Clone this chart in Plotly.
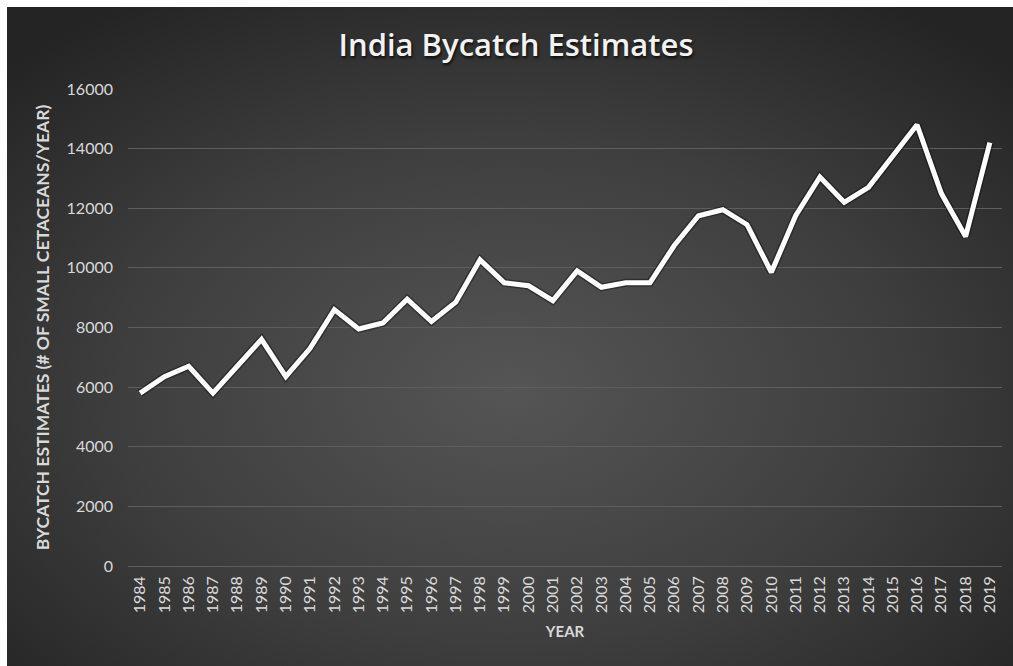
import base64
import plotly.graph_objects as go

years = [str(y) for y in range(1984, 2020)]
bycatch = [5800, 6350, 6700, 5800, 6700, 7600, 6350, 7300, 8600, 7950,
           8150, 8950, 8200, 8850, 10270, 9500, 9400, 8900, 9900, 9350,
           9500, 9500, 10750, 11750, 11950, 11450, 9850, 11750, 13050, 12200,
           12700, 13750, 14800, 12500, 11050, 14200]

title_text = "India Bycatch Estimates"
y_title = "BYCATCH ESTIMATES (# OF SMALL CETACEANS/YEAR)"
x_title = "YEAR"

W, H = 1013, 666
L, R, T, B = 128, 11, 89, 100
pw, ph = W - L - R, H - T - B

svg = ('<svg xmlns="http://www.w3.org/2000/svg" width="1006" height="659" preserveAspectRatio="none">'
       '<defs><radialGradient id="g" cx="50%" cy="58%" r="70%">'
       '<stop offset="0%" stop-color="#555555"/>'
       '<stop offset="55%" stop-color="#3e3e3e"/>'
       '<stop offset="100%" stop-color="#242424"/>'
       '</radialGradient></defs>'
       '<rect width="1006" height="659" fill="url(#g)"/></svg>')
bg_uri = "data:image/svg+xml;base64," + base64.b64encode(svg.encode()).decode()

font_fam = "Lato, 'Open Sans', sans-serif"
tick_col = "#d9d9d9"

fig = go.Figure()
fig.add_trace(go.Scatter(
    x=years, y=bycatch, mode="lines",
    line=dict(color="rgba(0,0,0,0.35)", width=8),
    hoverinfo="skip", showlegend=False))
fig.add_trace(go.Scatter(
    x=years, y=bycatch, mode="lines",
    line=dict(color="#ffffff", width=5),
    showlegend=False))

fig.update_layout(
    width=W, height=H,
    margin=dict(l=L, r=R, t=T, b=B, pad=0),
    paper_bgcolor="#ffffff",
    plot_bgcolor="rgba(0,0,0,0)",
    images=[dict(
        source=bg_uri, xref="paper", yref="paper",
        x=(7 - L) / pw, y=(H - B - 7) / ph,
        sizex=(W - 7) / pw, sizey=(H - 7) / ph,
        xanchor="left", yanchor="top", sizing="stretch", layer="below")],
    title=dict(
        text=title_text, x=516 / W, xanchor="center", xref="container",
        y=1 - 45 / H, yanchor="middle", yref="container",
        font=dict(family="'Open Sans', sans-serif", size=31, color="#f2f2f2",
                  weight=600, shadow="1px 2px 3px rgba(0,0,0,0.8)")),
    showlegend=False,
)
fig.update_xaxes(
    type="category", range=[-0.5, len(years) - 0.5],
    tickangle=-90, tickfont=dict(family=font_fam, size=16, color=tick_col),
    showgrid=False, showline=False, ticks="", ticklabelstandoff=6,
    title=dict(text=x_title, standoff=14,
               font=dict(family=font_fam, size=15, color=tick_col, weight="bold")),
)
fig.update_yaxes(
    range=[0, 16000], dtick=2000, tickformat="d",
    tickfont=dict(family=font_fam, size=16, color=tick_col),
    showgrid=True, gridcolor="#5e5e5e", gridwidth=1,
    zeroline=True, zerolinecolor="#5e5e5e", zerolinewidth=1,
    showline=False, ticks="", ticklabelstandoff=14,
    title=dict(text=y_title, standoff=12,
               font=dict(family=font_fam, size=17.5, color=tick_col, weight="bold")),
)

fig.write_html("out.html")
